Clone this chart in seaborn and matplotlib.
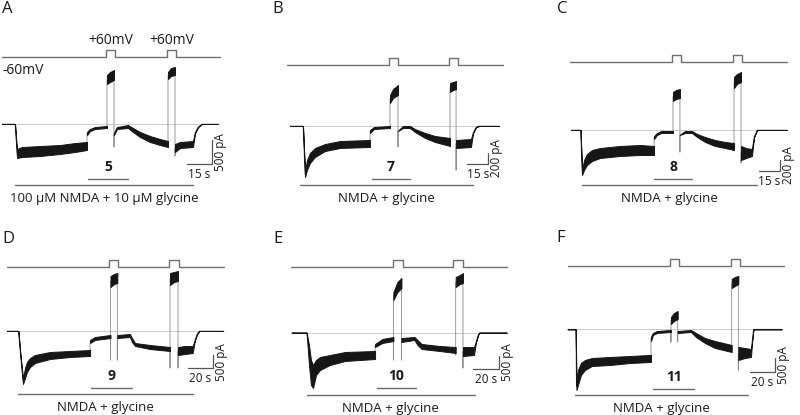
import matplotlib
matplotlib.use("Agg")
import matplotlib.pyplot as plt
import seaborn as sns

sns.set_theme(style="white")
plt.rcParams["font.family"] = ["Open Sans", "DejaVu Sans"]

# Current traces: time (s), upper and lower edge of the noisy band (pA).
# A repeated time marks a fast jump (drawn as a thin grey line).
A_t = [0, 7.8, 9, 12, 22.8, 34.8, 43.8, 51, 51, 52.8, 55.8, 63, 63, 64.8, 67.2, 67.2, 67.2, 69,
       75.6, 78.6, 82.8, 88.8, 94.8, 99.6, 99.6, 101.4, 103.8, 103.8, 103.8, 106.8, 114.6, 115.8,
       117.6, 120, 129.6]
A_hi = [0, 0, -513, -472, -451, -431, -390, -369, -164, -103, -62, -41, 1005, 1066, 1107, -472,
        -185, -62, -21, -82, -164, -246, -308, -349, 1066, 1148, 1169, -656, -410, -369, -349,
        -185, -62, 0, 0]
A_lo = [0, 0, -697, -677, -656, -615, -574, -533, -226, -144, -103, -82, 820, 861, 902, -472,
        -226, -103, -82, -164, -267, -369, -431, -472, 923, 984, 1005, -656, -574, -492, -472,
        -185, -62, 0, 0]

B_t = [0, 9.4, 10.9, 12.3, 14.5, 18.1, 25.4, 36.3, 58, 58, 60.9, 72.5, 72.5, 74.7, 78.3, 78.3,
       78.3, 81.9, 87, 90.6, 97.9, 105.1, 116, 116, 118.2, 120.4, 120.4, 120.4, 131.2, 132.7,
       134.9, 137, 151.5]
B_hi = [0, 0, -837, -619, -491, -400, -328, -273, -255, -73, -18, 0, 564, 673, 746, -382, -91, 0,
        0, -55, -127, -182, -218, 783, 801, 819, -801, -255, -237, -127, -18, 0, 0]
B_lo = [0, 0, -928, -801, -673, -564, -455, -400, -382, -127, -55, -36, 419, 510, 564, -382, -91,
        -36, -36, -109, -218, -291, -364, 619, 655, 673, -801, -400, -382, -127, -18, 0, 0]

C_t = [0, 6.8, 7.9, 9.3, 11.4, 15, 20.7, 35, 49.3, 59.3, 59.3, 61.4, 64.3, 72.8, 72.8, 75, 77.8,
       77.8, 77.8, 81.4, 86.4, 90, 95.7, 102.8, 110, 116.4, 116.4, 118.5, 121.4, 121.4, 121.4,
       125, 129.2, 130.7, 132.8, 154.2]
C_hi = [0, 0, -728, -546, -437, -364, -328, -291, -273, -291, -109, -55, -18, -18, 692, 728, 746,
        -400, -91, -18, -18, -73, -127, -182, -218, -237, 965, 1019, 1056, -601, -291, -328,
        -346, -127, 0, 0]
C_lo = [0, 0, -819, -728, -637, -564, -510, -473, -455, -455, -164, -91, -55, -55, 528, 564, 582,
        -400, -91, -55, -55, -127, -218, -291, -328, -364, 764, 837, 874, -601, -546, -510,
        -473, -127, 0, 0]

D_t = [0, 8.6, 10.2, 12.2, 13.8, 15.3, 17.7, 21.5, 33.2, 48.8, 64.4, 64.4, 68.2, 80.3, 80.3,
       80.3, 83, 85.6, 85.6, 85.6, 95.4, 97, 99.4, 111, 126.6, 126.6, 126.6, 129.7, 132.8, 132.8,
       132.8, 138.3, 144.2, 146, 147.6, 149.4, 168]
D_hi = [0, 0, -902, -1767, -1391, -1166, -1015, -902, -790, -752, -714, -338, -226, -150, -1090,
        2068, 2143, 2181, -1090, -150, -113, -263, -451, -526, -602, -1391, 2181, 2218, 2256,
        -1391, -602, -564, -564, -338, -113, 0, 0]
D_lo = [0, 0, -902, -1993, -1767, -1542, -1354, -1203, -1053, -978, -940, -451, -338, -263,
        -1090, 1654, 1767, 1805, -1090, -263, -226, -414, -564, -677, -752, -1391, 1730, 1842,
        1880, -1391, -902, -865, -827, -338, -113, 0, 0]

E_t = [0, 11.5, 13.3, 14.8, 16.4, 18.7, 21.8, 29.4, 41, 64.1, 64.1, 69.7, 78.2, 78.2, 78.2, 81.3,
       84.4, 84.4, 84.4, 94.4, 96.7, 99.9, 113.8, 126.1, 126.1, 126.1, 129.4, 131.7, 131.7,
       131.7, 140.2, 141.7, 143.3, 144.3, 165.3]
E_hi = [0, 0, -462, -1026, -1214, -1026, -914, -838, -726, -688, -425, -237, -162, -1026, 1529,
        1905, 2056, -1026, -199, -162, -274, -425, -500, -538, -838, 2094, 2169, 2244, -1327,
        -538, -538, -350, -86, 0, 0]
E_lo = [0, 0, -1214, -1966, -2079, -1590, -1402, -1214, -1064, -989, -538, -387, -312, -1026,
        1229, 1529, 1680, -1026, -350, -274, -462, -613, -688, -763, -838, 1718, 1830, 1868,
        -1327, -876, -838, -350, -86, 0, 0]

F_t = [0, 6.4, 7, 8.2, 10.6, 13.8, 19.4, 33.8, 49.8, 66.6, 66.6, 68.2, 71.4, 82.6, 82.6, 82.6, 85,
       88, 88, 88, 98.6, 102.6, 109.8, 117.8, 131.2, 131.2, 133.8, 136.5, 136.5, 136.5, 141.8,
       146.6, 147.8, 148.6, 171.2]
F_hi = [0, 0, -2094, -1530, -1267, -1154, -1079, -1041, -1004, -963, -290, -139, -64, -26, -478,
        463, 614, 689, -478, -64, -26, -139, -327, -440, -590, 1894, 1969, 2007, -1530, -665,
        -703, -741, -327, 0, 0]
F_lo = [0, 0, -2282, -2094, -1718, -1530, -1380, -1342, -1267, -1229, -440, -214, -139, -101,
        -478, 199, 312, 388, -478, -139, -101, -290, -515, -703, -854, 1553, 1628, 1704, -1530,
        -1154, -1079, -1041, -327, 0, 0]

# Voltage protocol: holding span and +60 mV steps (s)
A_vspan, A_pulses = (0, 130.8), [(62.4, 67.8), (99.0, 104.4)]
B_vspan, B_pulses = (-2.2, 154.4), [(71.8, 78.3), (115.3, 121.8)]
C_vspan, C_pulses = (-0.7, 154.2), [(72.3, 78.8), (115.5, 121.9)]
D_vspan, D_pulses = (0, 168.6), [(79.4, 86.4), (126.0, 133.3)]
E_vspan, E_pulses = (-0.8, 165.8), [(78.1, 85.4), (124.3, 131.5)]
F_vspan, F_pulses = (0, 173.3), [(81.8, 89.0), (130.6, 137.8)]
HOLD_MV, STEP_MV = -60, 60

# Application bars (s): NMDA + glycine, and compound
A_drug, A_cmpd = (7.8, 114.6), (51.6, 75.6)
B_drug, B_cmpd = (7.25, 132.7), (59.5, 87.0)
C_drug, C_cmpd = (7.6, 132.6), (59.5, 86.6)
D_drug, D_cmpd = (8.6, 144.2), (64.9, 96.8)
E_drug, E_cmpd = (11.5, 141.0), (65.4, 95.6)
F_drug, F_cmpd = (5.8, 144.5), (68.5, 101.3)

panel_letters = ["A", "B", "C", "D", "E", "F"]
cmpd_labels = ["5", "7", "8", "9", "10", "11"]
drug_labels = ["100 \u00b5M NMDA + 10 \u00b5M glycine"] + ["NMDA + glycine"] * 5
scale_s = [15, 15, 15, 20, 20, 20]
scale_pA = [500, 200, 200, 500, 500, 500]

# Placement of each panel in pixels of the 800x415 figure
W, H = 800, 415
LAYOUT = [
    dict(x0=2, base=124, sp=0.6, pa=20.5, vline=57, cmpd_y=179, drug_y=185, sb=(212, 164), letter=(2, 1)),
    dict(x0=290, base=126, sp=0.725, pa=18.2, vline=65, cmpd_y=179, drug_y=185, sb=(488, 164), letter=(272, 1)),
    dict(x0=571, base=130, sp=0.714, pa=18.2, vline=62.3, cmpd_y=179.3, drug_y=185, sb=(780, 171), letter=(557, 1)),
    dict(x0=7.3, base=331, sp=0.778, pa=37.6, vline=266.7, cmpd_y=388.3, drug_y=394, sb=(213.3, 368.3), letter=(2, 230.5)),
    dict(x0=291.7, base=332.7, sp=0.769, pa=37.6, vline=266.7, cmpd_y=388.3, drug_y=395, sb=(499.3, 369), letter=(273, 230.5)),
    dict(x0=567.7, base=329.3, sp=0.8, pa=37.6, vline=265.7, cmpd_y=389, drug_y=395, sb=(775, 371.7), letter=(556, 229.5)),
]

fig = plt.figure(figsize=(8, 4.15), dpi=100)


def split_segments(t, hi, lo):
    start = 0
    for i in range(1, len(t)):
        if t[i] == t[i - 1]:
            yield t[start:i], hi[start:i], lo[start:i]
            start = i
    yield t[start:], hi[start:], lo[start:]


def draw_panel(i, t, hi, lo, vspan, pulses, drug, cmpd):
    L = LAYOUT[i]
    sp, pa = L["sp"], L["pa"]
    ax = fig.add_axes([0, 0, 1, 1])
    ax.set_xlim(-L["x0"] * sp, (W - L["x0"]) * sp)
    ax.set_ylim(-(H - L["base"]) * pa, L["base"] * pa)
    ax.axis("off")
    ax.patch.set_alpha(0)

    def xd(px):
        return (px - L["x0"]) * sp

    def yd(py):
        return (L["base"] - py) * pa

    # zero-current reference
    ax.plot([t[0], t[-1]], [0, 0], color="#c4c4c4", lw=0.6, zorder=1)
    # whole path (fast transitions show as thin grey lines)
    mid = [(h + l) / 2 for h, l in zip(hi, lo)]
    sns.lineplot(x=t, y=mid, ax=ax, sort=False, estimator=None, color="#8a8a8a", lw=0.6, zorder=2)
    for st, sh, sl in split_segments(t, hi, lo):
        if len(st) > 1:
            ax.fill_between(st, sl, sh, facecolor="#161616", edgecolor="#161616", lw=0.7, zorder=3)

    # voltage command
    vax = fig.add_axes([0, 0, 1, 1])
    vax.patch.set_alpha(0)
    vax.set_xlim(ax.get_xlim())
    mv = (STEP_MV - HOLD_MV) / 7.0
    vax.set_ylim(HOLD_MV - (H - L["vline"]) * mv, HOLD_MV + L["vline"] * mv)
    vax.axis("off")
    vt, vv = [vspan[0]], [HOLD_MV]
    for a, b in pulses:
        vt += [a, a, b, b]
        vv += [HOLD_MV, STEP_MV, STEP_MV, HOLD_MV]
    vt.append(vspan[1])
    vv.append(HOLD_MV)
    sns.lineplot(x=vt, y=vv, ax=vax, sort=False, estimator=None, color="#707070", lw=1.0)
    if i == 0:
        for a, b in pulses:
            vax.annotate("+60mV", ((a + b) / 2, STEP_MV), xytext=(0, 1.5), textcoords="offset points",
                         ha="center", va="bottom", fontsize=10, color="#1a1a1a")
        vax.annotate("-60mV", (vspan[0], HOLD_MV), xytext=(0.5, -9.5), textcoords="offset points",
                     ha="left", va="center", fontsize=10, color="#1a1a1a")

    # application bars
    yc = yd(L["cmpd_y"])
    ax.plot(cmpd, [yc, yc], color="#6a6a6a", lw=1.0)
    ax.annotate(cmpd_labels[i], ((cmpd[0] + cmpd[1]) / 2, yc), xytext=(0, 8.5), textcoords="offset points",
                ha="center", va="center", fontsize=10, fontweight="bold", color="#1a1a1a")
    ydr = yd(L["drug_y"])
    ax.plot(drug, [ydr, ydr], color="#6a6a6a", lw=1.0)
    ax.annotate(drug_labels[i], ((drug[0] + drug[1]) / 2, ydr), xytext=(0, -9.5), textcoords="offset points",
                ha="center", va="center", fontsize=9.5, color="#1a1a1a")

    # scale bar
    cx, cy = xd(L["sb"][0]), yd(L["sb"][1])
    ax.plot([cx - scale_s[i], cx, cx], [cy, cy, cy + scale_pA[i]], color="#555555", lw=0.9)
    ax.annotate(f"{scale_s[i]} s", (cx - scale_s[i] / 2, cy), xytext=(0, -7.5), textcoords="offset points",
                ha="center", va="center", fontsize=8.5, color="#1a1a1a")
    ax.annotate(f"{scale_pA[i]} pA", (cx, cy + scale_pA[i] / 2), xytext=(6, 0), textcoords="offset points",
                ha="center", va="center", rotation=90, fontsize=8.5, color="#1a1a1a")

    lx, ly = L["letter"]
    fig.text(lx / W, 1 - ly / H, panel_letters[i], ha="left", va="top", fontsize=12, color="#1a1a1a")


draw_panel(0, A_t, A_hi, A_lo, A_vspan, A_pulses, A_drug, A_cmpd)
draw_panel(1, B_t, B_hi, B_lo, B_vspan, B_pulses, B_drug, B_cmpd)
draw_panel(2, C_t, C_hi, C_lo, C_vspan, C_pulses, C_drug, C_cmpd)
draw_panel(3, D_t, D_hi, D_lo, D_vspan, D_pulses, D_drug, D_cmpd)
draw_panel(4, E_t, E_hi, E_lo, E_vspan, E_pulses, E_drug, E_cmpd)
draw_panel(5, F_t, F_hi, F_lo, F_vspan, F_pulses, F_drug, F_cmpd)

fig.savefig("out.png", dpi=100, facecolor="white")
